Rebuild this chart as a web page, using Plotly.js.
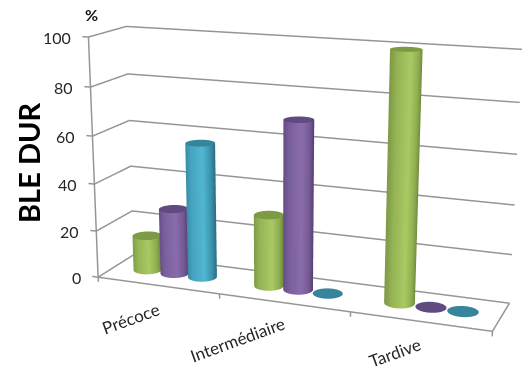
<!DOCTYPE html>
<html><head><meta charset="utf-8">
<script src="https://cdn.plot.ly/plotly-3.0.1.min.js"></script>
<style>html,body{margin:0;background:#fff;width:522px;height:370px;overflow:hidden;position:relative}#chart{position:absolute}</style></head><body>
<div id="chart"></div>
<script>
const categories = ["Précoce", "Intermédiaire", "Tardive"];
const seriesGreen = [15, 30, 100];
const seriesPurple = [28, 70, 0];
const seriesBlue = [57, 0, 0];
const valueTicks = [0, 20, 40, 60, 80, 100];

// Camera for the perspective box; the canvas is larger than the page so the
// optical axis and focal length land where this view needs them.
const EYE = [3.3368, -8.9865, 2.4885], AIM = [-0.7156, 1.4195, -0.5889], ROLL = 0.0044;
const BOX = [1.6498, 0.3151, 1]; // half extents of the plot box in camera units
const W = 1200, H = 1045, LEFT = -321, TOP = -334;
const el = document.getElementById("chart");
el.style.left = LEFT + "px"; el.style.top = TOP + "px";
el.style.width = W + "px"; el.style.height = H + "px";

// Ranges are widened evenly around the walls so ticks below and left of them still draw.
const X_RANGE = [-0.1, 3.1], Y_RANGE = [-0.2, 1.2], Z_RANGE = [-8, 108];
const BAR_Y = 0.51, BAR_STEP = 0.23, R_BOX = 0.12;
const toX = R_BOX * 3 / (2 * BOX[0]), toY = R_BOX / (2 * BOX[1]);
const RIGHT = [0.932, 0.363]; // screen-right direction on the floor, used to shade the sides

const green = {side: [[0, "#7f9a45"], [0.2, "#95b455"], [0.6, "#a9ca63"], [0.85, "#8fad50"], [1, "#6d8838"]], cap: "#7d9b45"};
const purple = {side: [[0, "#654d85"], [0.2, "#7a5f9d"], [0.6, "#8a6cad"], [0.85, "#745a96"], [1, "#553f70"]], cap: "#604a80"};
const blue = {side: [[0, "#3a8aa5"], [0.2, "#46a4c0"], [0.6, "#50b7d2"], [0.85, "#3c93ad"], [1, "#2a6f84"]], cap: "#37859c"};
const flat = {ambient: 1, diffuse: 0, specular: 0, roughness: 1, fresnel: 0};

// Top disc of a cylinder; a zero value leaves just this disc on the floor.
function capTrace(cx, h, color) {
  const xs = [], ys = [], zs = [];
  for (const rad of [1, 0]) {
    const a = [], b = [], c = [];
    for (let i = 0; i <= 48; i++) {
      const t = 2 * Math.PI * i / 48;
      a.push(cx + rad * toX * Math.cos(t)); b.push(BAR_Y + rad * toY * Math.sin(t)); c.push(h);
    }
    xs.push(a); ys.push(b); zs.push(c);
  }
  return {type: "surface", x: xs, y: ys, z: zs, showscale: false, colorscale: [[0, color], [1, color]], lighting: flat, hoverinfo: "skip"};
}
// Cylinder wall, coloured by its position across the silhouette.
function sideTrace(cx, h, scale) {
  const xs = [], ys = [], zs = [], cs = [];
  for (const level of [0, h]) {
    const a = [], b = [], c = [], d = [];
    for (let i = 0; i <= 48; i++) {
      const t = 2 * Math.PI * i / 48;
      a.push(cx + toX * Math.cos(t)); b.push(BAR_Y + toY * Math.sin(t)); c.push(level);
      d.push(RIGHT[0] * Math.cos(t) + RIGHT[1] * Math.sin(t));
    }
    xs.push(a); ys.push(b); zs.push(c); cs.push(d);
  }
  return {type: "surface", x: xs, y: ys, z: zs, surfacecolor: cs, cmin: -1, cmax: 1, showscale: false, colorscale: scale, lighting: flat, hoverinfo: "skip"};
}

const traces = [];
// Gridlines on the left and back walls, floor edges, axis line and ticks.
const gx = [], gy = [], gz = [];
valueTicks.forEach(v => { gx.push(-0.05, 0, 0, 3, null); gy.push(0, 0, 1, 1, null); gz.push(v, v, v, v, null); });
gx.push(0, 0, null, 0, 3, 3, null); gy.push(0, 0, null, 0, 0, 1, null); gz.push(0, 100, null, 0, 0, 0, null);
[0, 1, 2, 3].forEach(c => { gx.push(c, c, null); gy.push(0, 0, null); gz.push(0, -2, null); });
traces.push({type: "scatter3d", mode: "lines", x: gx, y: gy, z: gz, line: {color: "#959595", width: 3}, hoverinfo: "skip", showlegend: false});

[[seriesGreen, green], [seriesPurple, purple], [seriesBlue, blue]].forEach(([vals, style], s) => {
  vals.forEach((v, c) => {
    const cx = c + 0.5 + (s - 1) * BAR_STEP;
    if (v > 0) traces.push(sideTrace(cx, v, style.side));
    traces.push(capTrace(cx, v, style.cap));
  });
});

const tickFont = {family: "Lato, 'Open Sans', sans-serif", size: 16, color: "#262626"};
const catFont = {family: "Lato, 'Open Sans', sans-serif", size: 17, color: "#262626"};
const sceneNotes = valueTicks.map(v => ({x: 0, y: 0, z: v, text: String(v), showarrow: false, xanchor: "right", yanchor: "middle", xshift: -15, yshift: 0, font: tickFont}));
const catShift = [[-27, -33], [-46, -37], [-25, -31]];
categories.forEach((name, c) => sceneNotes.push({x: c + 0.5, y: 0, z: 0, text: name, showarrow: false, textangle: -20, xanchor: "center", yanchor: "middle", xshift: catShift[c][0], yshift: catShift[c][1], font: catFont}));

const px = x => (x - LEFT) / W, py = y => 1 - (y - TOP) / H;
const hidden = {showgrid: false, zeroline: false, showline: false, showticklabels: false, ticks: "", showspikes: false, showbackground: false, title: {text: ""}};
Plotly.newPlot(el, traces, {
  width: W, height: H, margin: {l: 0, r: 0, t: 0, b: 0}, paper_bgcolor: "#fff", showlegend: false,
  annotations: [
    {xref: "paper", yref: "paper", x: px(91), y: py(14), xanchor: "center", yanchor: "middle", text: "<b>%</b>", showarrow: false, font: {family: "Lato, sans-serif", size: 16, color: "#111"}},
    {xref: "paper", yref: "paper", x: px(28), y: py(163), xanchor: "center", yanchor: "middle", text: "<b>BLE DUR</b>", textangle: -90, showarrow: false, font: {family: "Lato, sans-serif", size: 29, color: "#000"}}
  ],
  scene: {
    aspectmode: "manual",
    aspectratio: {x: 2 * BOX[0] * 3.2 / 3, y: 2 * BOX[1] * 1.4, z: 2 * BOX[2] * 1.16},
    camera: {eye: {x: EYE[0], y: EYE[1], z: EYE[2]}, center: {x: AIM[0], y: AIM[1], z: AIM[2]}, up: {x: ROLL, y: 0, z: 1}},
    xaxis: Object.assign({range: X_RANGE}, hidden), yaxis: Object.assign({range: Y_RANGE}, hidden), zaxis: Object.assign({range: Z_RANGE}, hidden),
    annotations: sceneNotes
  }
}, {displayModeBar: false});
</script></body></html>
